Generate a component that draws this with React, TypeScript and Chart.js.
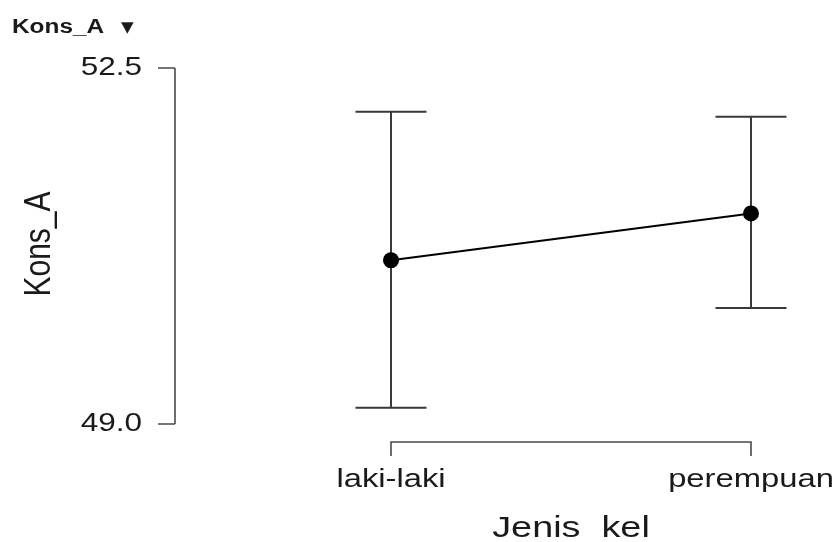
import React, { useEffect, useRef } from "react";
import { Chart, registerables } from "chart.js";

Chart.register(...registerables);

const categories = ["laki-laki", "perempuan"];
const means = [50.61, 51.07];
const upperCI = [52.07, 52.02];
const lowerCI = [49.16, 50.14];
const yTicks = [49.0, 52.5];
const yMin = 49.0;
const yMax = 52.5;
const plotTitle = "Kons_A";
const yTitle = "Kons_A";
const xTitle = "Jenis  kel";

const SX = 1.26;
const FONT = "'Liberation Sans', Arial, sans-serif";

function drawText(
  ctx: CanvasRenderingContext2D,
  text: string,
  x: number,
  y: number,
  font: string,
  align: CanvasTextAlign,
  baseline: CanvasTextBaseline,
  sx = SX
) {
  ctx.save();
  ctx.translate(x, y);
  ctx.scale(sx, 1);
  ctx.font = font;
  ctx.textAlign = align;
  ctx.textBaseline = baseline;
  ctx.fillStyle = "#1a1a1a";
  ctx.fillText(text, 0, 0);
  ctx.restore();
}

const axesPlugin = {
  id: "jaspAxes",
  beforeDatasetsDraw(chart: any) {
    const ctx: CanvasRenderingContext2D = chart.ctx;
    const xs = chart.scales.x;
    const ys = chart.scales.y;
    ctx.save();
    // error bars
    ctx.strokeStyle = "#3a3a3a";
    ctx.lineWidth = 2;
    const capHalf = 35.5;
    categories.forEach((_, i) => {
      const px = xs.getPixelForValue(i);
      const pu = ys.getPixelForValue(upperCI[i]);
      const pl = ys.getPixelForValue(lowerCI[i]);
      ctx.beginPath();
      ctx.moveTo(px, pu);
      ctx.lineTo(px, pl);
      ctx.moveTo(px - capHalf, pu);
      ctx.lineTo(px + capHalf, pu);
      ctx.moveTo(px - capHalf, pl);
      ctx.lineTo(px + capHalf, pl);
      ctx.stroke();
    });
    ctx.restore();
  },
  afterDraw(chart: any) {
    const ctx: CanvasRenderingContext2D = chart.ctx;
    const xs = chart.scales.x;
    const ys = chart.scales.y;
    ctx.save();
    ctx.strokeStyle = "#4a4a4a";
    ctx.lineWidth = 1.6;
    // y axis
    const axisX = 175;
    const yTop = ys.getPixelForValue(yTicks[yTicks.length - 1]);
    const yBot = ys.getPixelForValue(yTicks[0]);
    ctx.beginPath();
    ctx.moveTo(axisX, yTop);
    ctx.lineTo(axisX, yBot);
    yTicks.forEach((t) => {
      const py = ys.getPixelForValue(t);
      ctx.moveTo(158, py);
      ctx.lineTo(axisX, py);
    });
    ctx.stroke();
    yTicks.forEach((t) => {
      const py = ys.getPixelForValue(t);
      drawText(ctx, t.toFixed(1), 142, py, `25px ${FONT}`, "right", "middle");
    });
    // x bracket
    const bY = 442;
    const x0 = xs.getPixelForValue(0);
    const x1 = xs.getPixelForValue(categories.length - 1);
    ctx.beginPath();
    ctx.moveTo(x0, bY + 14);
    ctx.lineTo(x0, bY);
    ctx.lineTo(x1, bY);
    ctx.lineTo(x1, bY + 14);
    categories.forEach((_, i) => {
      if (i > 0 && i < categories.length - 1) {
        const px = xs.getPixelForValue(i);
        ctx.moveTo(px, bY);
        ctx.lineTo(px, bY + 14);
      }
    });
    ctx.stroke();
    categories.forEach((c, i) => {
      const px = xs.getPixelForValue(i);
      drawText(ctx, c, px, 487, `26px ${FONT}`, "center", "alphabetic");
    });
    // axis titles
    drawText(ctx, xTitle, 571, 537, `30px ${FONT}`, "center", "alphabetic");
    ctx.save();
    ctx.translate(50, 244);
    ctx.rotate(-Math.PI / 2);
    ctx.scale(1, SX);
    ctx.font = `30px ${FONT}`;
    ctx.textAlign = "center";
    ctx.textBaseline = "alphabetic";
    ctx.fillStyle = "#1a1a1a";
    ctx.fillText(yTitle, 0, 0);
    ctx.restore();
    // plot title
    drawText(ctx, plotTitle, 12, 33, `bold 20px ${FONT}`, "left", "alphabetic", 1.22);
    drawText(ctx, "▼", 121, 32, `15px 'DejaVu Sans', sans-serif`, "left", "alphabetic", 1.1);
    ctx.restore();
  },
};

export default function App() {
  const ref = useRef<HTMLCanvasElement | null>(null);
  useEffect(() => {
    if (!ref.current) return;
    const chart = new Chart(ref.current, {
      type: "line",
      data: {
        labels: categories,
        datasets: [
          {
            data: means,
            borderColor: "#000",
            backgroundColor: "#000",
            borderWidth: 2,
            pointRadius: 8,
            pointBackgroundColor: "#000",
            pointBorderColor: "#000",
            pointBorderWidth: 0,
            clip: false as any,
            tension: 0,
          },
        ],
      },
      options: {
        responsive: false,
        animation: false,
        events: [],
        layout: { padding: { left: 391, right: 87, top: 68, bottom: 118 } },
        plugins: { legend: { display: false }, tooltip: { enabled: false }, title: { display: false } },
        scales: {
          x: { type: "category", display: false, offset: false },
          y: { type: "linear", display: false, min: yMin, max: yMax },
        },
      },
      plugins: [axesPlugin],
    });
    return () => chart.destroy();
  }, []);
  return (
    <div style={{ position: "fixed", left: 0, top: 0, width: 838, height: 542, background: "#fff" }}>
      <canvas ref={ref} width={838} height={542} />
    </div>
  );
}
